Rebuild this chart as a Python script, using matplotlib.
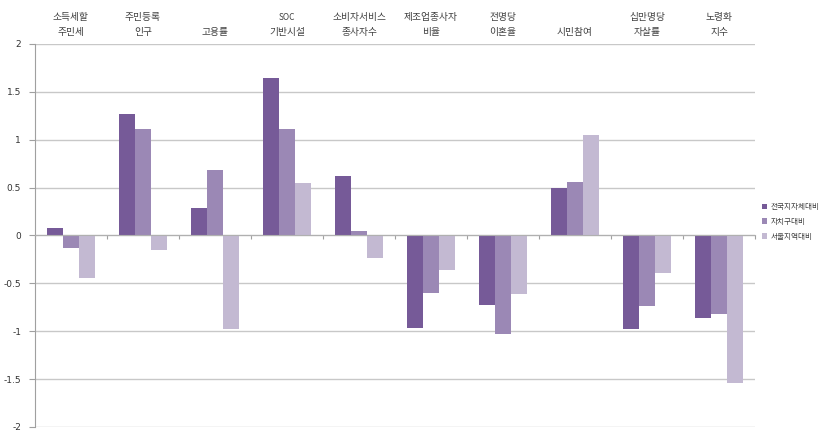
import numpy as np
import matplotlib.pyplot as plt
from matplotlib.patches import Patch
import matplotlib.transforms as mtransforms

plt.rcParams['font.family'] = ['Noto Sans CJK KR', 'DejaVu Sans']

# category labels (two lines; empty first line = single-line label)
cat_top = ["소득세할", "주민등록", "", "SOC", "소비자서비스", "제조업종사자", "전명당", "", "십만명당", "노령화"]
cat_bottom = ["주민세", "인구", "고용률", "기반시설", "종사자수", "비율", "이혼율", "시민참여", "자살률", "지수"]

series_names = ["전국지자체대비", "자치구대비", "서울지역대비"]
national = [0.08, 1.27, 0.29, 1.65, 0.62, -0.97, -0.73, 0.50, -0.98, -0.86]
district = [-0.13, 1.11, 0.68, 1.11, 0.05, -0.60, -1.03, 0.56, -0.74, -0.82]
seoul = [-0.44, -0.15, -0.98, 0.55, -0.24, -0.36, -0.61, 1.05, -0.39, -1.54]

yticks = [2, 1.5, 1, 0.5, 0, -0.5, -1, -1.5, -2]
colors = ["#765a98", "#9b88b5", "#c3b9d2"]

fig = plt.figure(figsize=(8.27, 4.33), dpi=100)
ax = fig.add_axes([0.0423, 0.0139, 0.8707, 0.8845])

x = np.arange(len(cat_bottom))
w = 0.222
for k, vals in enumerate([national, district, seoul]):
    ax.bar(x + (k - 1) * w, vals, width=w, color=colors[k], zorder=3)

ax.set_xlim(-0.5, len(cat_bottom) - 0.5)
ax.set_ylim(-2, 2)
ax.set_yticks(yticks)
ax.set_yticklabels([f"{v:g}" for v in yticks], fontsize=6.5, color="#333333",
                   family=['DejaVu Sans'])
ax.yaxis.grid(True, color="#c8c8c8", linewidth=1.0, zorder=0)

for s in ["right", "top"]:
    ax.spines[s].set_visible(False)
ax.spines["left"].set_color("#a0a0a0")
ax.spines["bottom"].set_position(("data", 0))
ax.spines["bottom"].set_color("#b0b0b0")
ax.spines["bottom"].set_zorder(4)
ax.set_xticks(np.arange(-0.5, len(cat_bottom), 1.0))
ax.set_xticklabels([])
ax.tick_params(axis="x", length=3, color="#a0a0a0", direction="out")
ax.tick_params(axis="y", length=4, color="#a0a0a0", pad=6)

# category labels above the plot
trans = mtransforms.blended_transform_factory(ax.transData, fig.transFigure)
for i in range(len(cat_bottom)):
    top = cat_top[i]
    if top:
        fs = 6 if top == "SOC" else 7
        ax.text(x[i], 1 - 17 / 433, top, transform=trans, ha="center", va="center",
                fontsize=fs, color="#404040")
    ax.text(x[i], 1 - 32 / 433, cat_bottom[i], transform=trans, ha="center", va="center",
            fontsize=7, color="#404040")

handles = [Patch(facecolor=c) for c in colors]
fig.legend(handles, series_names, loc="upper left", bbox_to_anchor=(755 / 827, 1 - 196 / 433),
           frameon=False, fontsize=5.5, handlelength=0.7, handleheight=0.7,
           handletextpad=0.4, labelspacing=0.9, labelcolor="#404040")

fig.savefig("out.png", dpi=100)
